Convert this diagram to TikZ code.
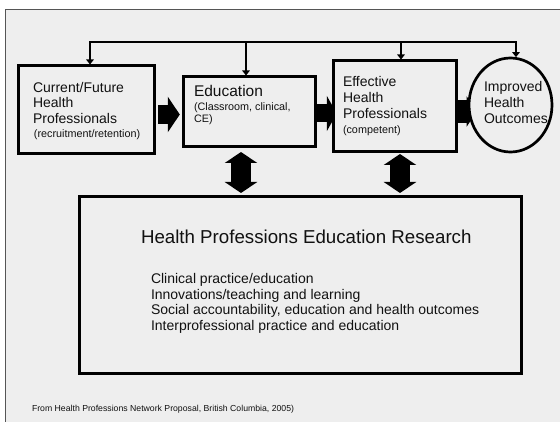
\documentclass[tikz,border=0pt]{standalone}
\usepackage{fontspec}
\setmainfont{Liberation Sans}
\usetikzlibrary{arrows.meta,shapes.geometric,backgrounds,calc}
\definecolor{panel}{HTML}{EEEEEE}
\definecolor{framegray}{HTML}{555555}
\definecolor{ink}{HTML}{111111}
\begin{document}
\begin{tikzpicture}[x=1pt,y=-1pt,
  box/.style={draw=black,line width=3pt,fill=panel,inner sep=0pt},
  txt/.style={anchor=base west,inner sep=0pt,outer sep=0pt,text=ink,font=\fontsize{14}{16}\selectfont},
  smalltxt/.style={txt,font=\fontsize{10.8}{12}\selectfont},
  fbline/.style={draw=black,line width=2.2pt},
  fbtip/.style={-{Triangle[length=5pt,width=7.5pt]}},
  dbl/.style={draw=black,line width=20pt,{Triangle[length=11pt,width=32pt]}-{Triangle[length=11pt,width=32pt]}}
]
\useasboundingbox (0,0) rectangle (560,422);
\clip (0,0) rectangle (560,422);
\begin{pgfonlayer}{background}
  \fill[white] (0,0) rectangle (560,422);
  \draw[draw=framegray,fill=panel,line width=1pt] (5,10) rectangle (580,440);
\end{pgfonlayer}

% boxes
\node[box,minimum width=136pt,minimum height=88pt] (b1) at (86,110) {};
\node[box,minimum width=132pt,minimum height=70pt] (b2) at (249,112) {};
\node[box,minimum width=123pt,minimum height=91pt] (b3) at (394.5,106.5) {};
\node[box,ellipse,line width=2.7pt,minimum width=83pt,minimum height=94pt] (c) at (510.5,105) {};
\node[box,minimum width=442pt,minimum height=176.5pt] (res) at (300,285.2) {};

% block arrows (behind boxes)
\begin{pgfonlayer}{background}
  \draw[draw=black,line width=19pt,-{Triangle[length=12pt,width=35pt]},shorten <=2.5pt,shorten >=1.7pt]
    (b1.east |- 0,114.5) -- (b2.west |- 0,114.5);
  \draw[draw=black,line width=18pt,-{Triangle[length=10pt,width=35pt]},shorten >=-5.3pt]
    (b2.east |- 0,113.5) -- (b3.west |- 0,113.5);
  \draw[draw=black,line width=23pt,-{Triangle[length=10pt,width=30pt]},shorten >=-9pt]
    (b3.east |- 0,111.5) -- (c.west |- 0,111.5);
\end{pgfonlayer}

% feedback loop
\coordinate (t1) at (90,42);
\coordinate (t2) at (246,42);
\coordinate (t3) at (401,42);
\coordinate (t4) at (516,42);
\draw[fbline,line cap=rect] (t1) -- (t4);
\draw[fbline,fbtip] (t1) -- (t1 |- b1.north);
\draw[fbline,fbtip] (t2) -- (t2 |- b2.north);
\draw[fbline,fbtip] (t3) -- (t3 |- b3.north);
\draw[fbline,fbtip] (t4) -- ($(t4 |- c.north)+(0,0.5)$);

% double arrows
\coordinate (u1) at (241,152);
\coordinate (d1) at (241,193);
\coordinate (u2) at (400,154);
\coordinate (d2) at (400,193);
\draw[dbl] (u1) -- (d1);
\draw[dbl] (u2) -- (d2);

% texts box 1
\node[txt] (b1l1) at (33,92.7) {Current/Future};
\node[txt] (b1l2) at (33,107.7) {Health};
\node[txt] (b1l3) at (33,123.3) {Professionals};
\node[smalltxt] (b1l4) at (34,137.3) {(recruitment/retention)};
% box 2
\node[txt,font=\fontsize{15.5}{17}\selectfont] (b2l1) at (194,96.7) {Education};
\node[smalltxt] (b2l2) at (194,111) {(Classroom, clinical,};
\node[smalltxt] (b2l3) at (194,122.7) {CE)};
% box 3
\node[txt] (b3l1) at (343,86.7) {Effective};
\node[txt] (b3l2) at (343,102.7) {Health};
\node[txt] (b3l3) at (343,118.3) {Professionals};
\node[smalltxt] (b3l4) at (343,133.3) {(competent)};
% circle
\node[txt] (cl1) at (484,91.7) {Improved};
\node[txt] (cl2) at (484,107.3) {Health};
\node[txt] (cl3) at (484,123.3) {Outcomes};
% research box
\node[txt,font=\fontsize{18.7}{21}\selectfont] (rt) at (141,243.3) {Health Professions Education Research};
\node[txt] (r1) at (151,283.3) {Clinical practice/education};
\node[txt] (r2) at (151,299.3) {Innovations/teaching and learning};
\node[txt] (r3) at (151,315) {Social accountability, education and health outcomes};
\node[txt] (r4) at (151,330.7) {Interprofessional practice and education};
% footer
\node[txt,font=\fontsize{8.7}{10}\selectfont] (foot) at (32,411.7) {From Health Professions Network Proposal, British Columbia, 2005)};
\end{tikzpicture}
\end{document}
